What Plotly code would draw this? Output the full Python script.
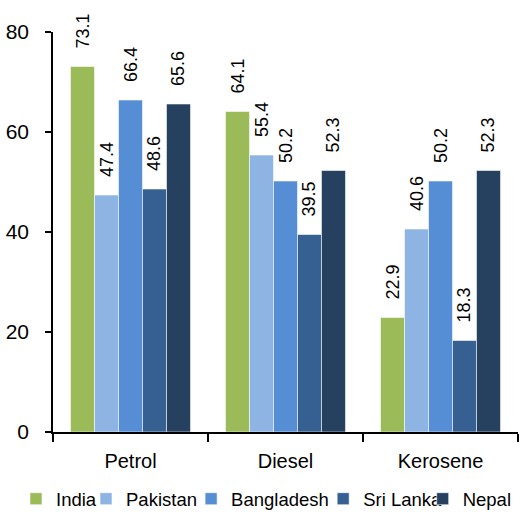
import plotly.graph_objects as go

fuels = ["Petrol", "Diesel", "Kerosene"]
countries = ["India", "Pakistan", "Bangladesh", "Sri Lanka", "Nepal"]
values = {
    "India": [73.1, 64.1, 22.9],
    "Pakistan": [47.4, 55.4, 40.6],
    "Bangladesh": [66.4, 50.2, 50.2],
    "Sri Lanka": [48.6, 39.5, 18.3],
    "Nepal": [65.6, 52.3, 52.3],
}
colors = ["#9BBB59", "#8EB4E3", "#558ED5", "#376092", "#26405F"]
y_ticks = [0, 20, 40, 60, 80]

FONT = "Liberation Sans, Arial, sans-serif"
# left edges of the individual legend entries (paper coordinates)
legend_x = [-0.0796, 0.071, 0.297, 0.581, 0.795]

fig = go.Figure()
for i, (name, col) in enumerate(zip(countries, colors)):
    leg = "legend" if i == 0 else f"legend{i + 1}"
    fig.add_trace(go.Bar(
        name=name,
        x=fuels,
        y=values[name],
        marker=dict(color=col, line=dict(color="rgba(255,255,255,0.7)", width=0.8)),
        texttemplate="\u00a0\u00a0\u00a0%{y:.1f}",
        textposition="outside",
        textangle=-90,
        constraintext="none",
        cliponaxis=False,
        textfont=dict(family=FONT, size=18, color="black"),
        legend=leg,
    ))
    fig.update_layout({leg: dict(
        orientation="h", x=legend_x[i], xanchor="left", y=-0.165, yanchor="middle",
        font=dict(family=FONT, size=18.5, color="black"),
        bgcolor="rgba(0,0,0,0)", itemwidth=30,
    )})

fig.update_layout(
    width=523, height=522,
    margin=dict(l=53, r=5, t=32, b=89),
    paper_bgcolor="white", plot_bgcolor="white",
    barmode="group", bargap=0.226, bargroupgap=0,
    showlegend=True,
    font=dict(family=FONT, size=20, color="black"),
    xaxis=dict(
        showline=True, linecolor="black", linewidth=1.5,
        ticks="outside", tickson="boundaries", ticklen=8, tickwidth=1.5, tickcolor="black",
        tickfont=dict(family=FONT, size=20), ticklabelstandoff=10,
        showgrid=False, zeroline=False,
    ),
    yaxis=dict(
        range=[0, 80], tickvals=y_ticks,
        showline=True, linecolor="black", linewidth=1.5,
        ticks="outside", ticklen=6, tickwidth=1.5, tickcolor="black",
        tickfont=dict(family=FONT, size=21), ticklabelstandoff=12,
        showgrid=False, zeroline=False,
    ),
)

fig.write_html("out.html")
